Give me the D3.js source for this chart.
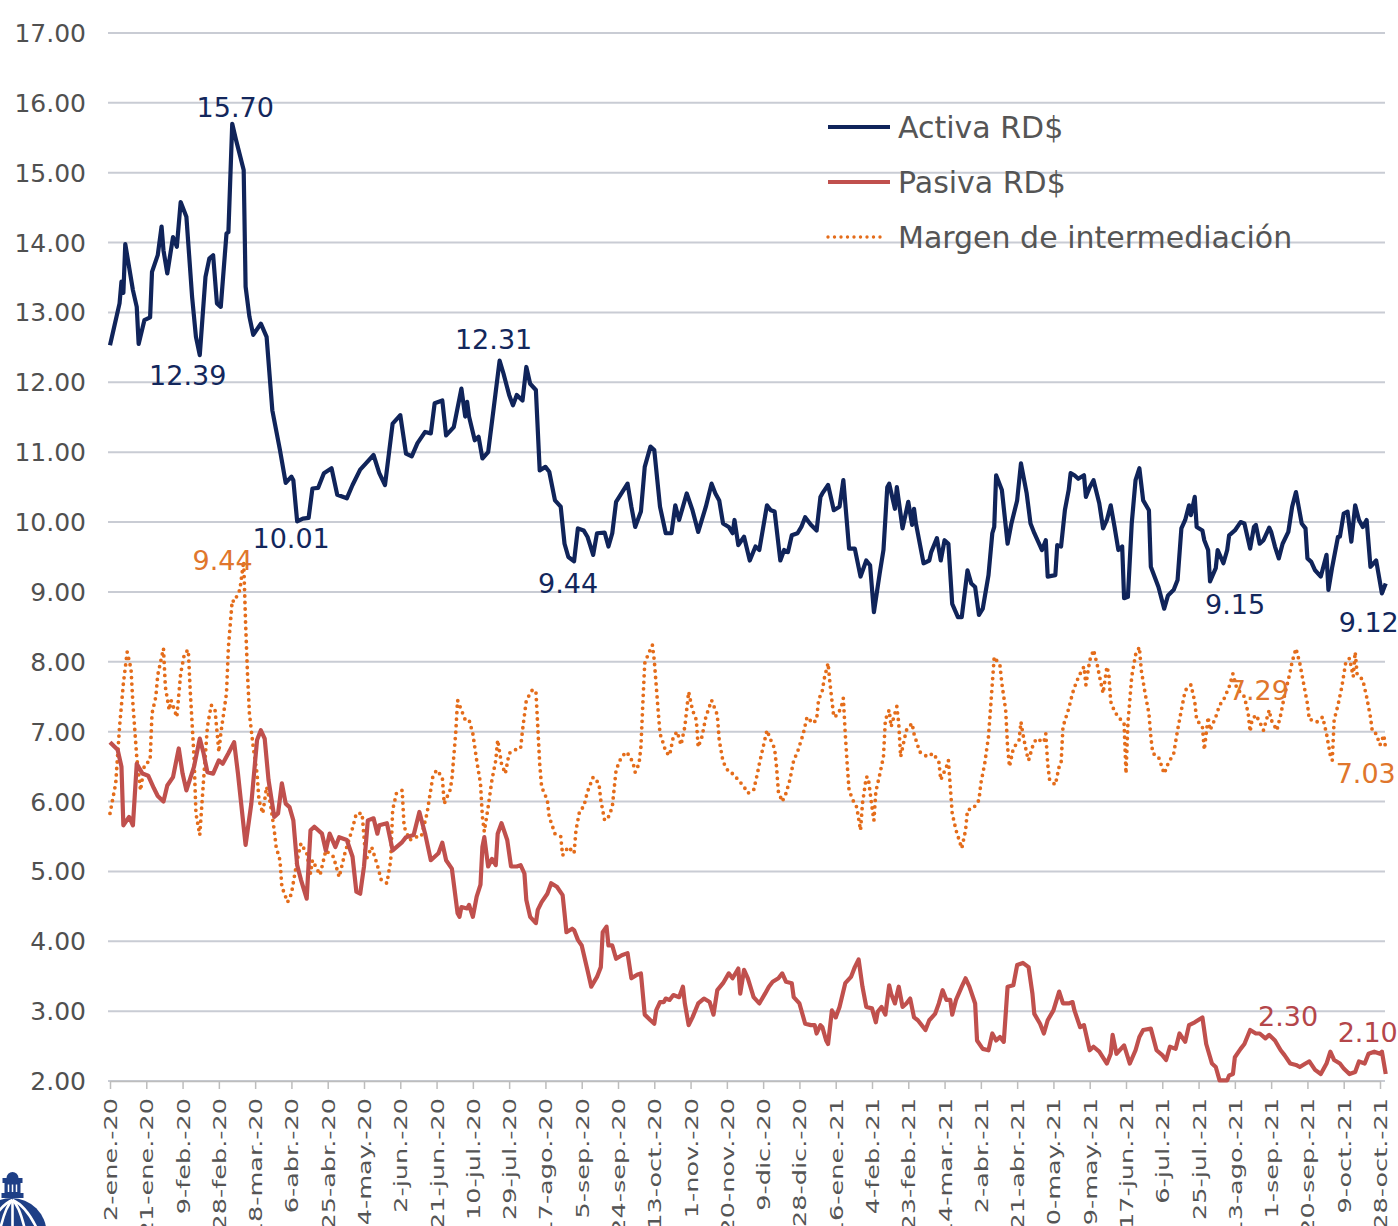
<!DOCTYPE html>
<meta charset="utf-8">
<style>
  body { margin: 0; background: #fff; }
  svg { display: block; font-family: "DejaVu Sans", sans-serif; }
  .grid line { stroke: #c9ccd4; stroke-width: 2; }
  .ylab { fill: #505050; font-size: 25px; }
  .xaxis path, .xaxis line { stroke: #bdbdbd; stroke-width: 1.5; }
  .xaxis text { fill: #555; font-size: 18px; font-family: "DejaVu Sans", sans-serif; }
  .legend text { fill: #555; font-size: 30px; }
  .etiqueta { font-size: 27px; text-anchor: middle; }
</style>
<body>
<script src="https://d3js.org/d3.v7.min.js"></script>
<script>
// dias contados desde el 2-ene-20
var activaDia = [0,2,5,6,7,8,12,14,15,18,21,22,25,27,28,30,33,35,37,40,43,45,47,50,52,54,56,58,61,62,
  64,66,70,71,73,75,79,82,85,89,92,95,96,98,101,104,106,109,112,116,119,124,127,131,134,138,141,144,148,152,
  155,158,161,165,168,170,174,176,180,184,186,187,188,191,193,195,198,201,204,206,209,211,213,216,218,220,223,225,228,230,
  233,236,238,240,243,245,248,250,253,255,259,261,263,265,271,273,275,278,280,283,285,288,291,294,296,298,302,305,308,312,
  315,317,319,321,324,326,327,329,332,335,338,340,344,346,348,351,353,355,357,360,362,364,367,370,372,373,376,379,382,384,
  387,390,393,396,398,400,403,405,407,408,411,412,415,418,420,421,422,426,429,430,433,435,437,439,441,444,446,449,451,453,
  455,457,460,462,463,464,467,470,472,475,477,480,482,484,488,490,491,495,496,498,500,502,503,505,507,510,511,513,515,518,
  520,522,524,526,528,530,531,533,535,537,539,541,544,545,549,552,554,557,559,561,563,565,566,568,569,572,573,575,576,579,
  580,583,585,586,589,592,594,597,599,600,602,604,607,608,610,612,614,617,619,621,624,626,627,629,631,634,637,638,640,643,
  644,646,648,650,652,654,656,658,660,663,666,668];
var activa = [12.53,12.77,13.13,13.44,13.28,13.98,13.32,13.08,12.55,12.89,12.93,13.58,13.82,14.23,13.89,13.56,14.08,13.94,14.58,14.37,
  13.22,12.65,12.39,13.51,13.77,13.82,13.13,13.08,14.13,14.15,15.70,15.47,15.04,13.37,12.94,12.68,12.84,12.65,11.60,11.03,
  10.56,10.65,10.60,10.01,10.05,10.06,10.48,10.49,10.70,10.77,10.39,10.34,10.53,10.75,10.84,10.96,10.70,10.53,11.41,11.53,
  10.98,10.94,11.13,11.29,11.27,11.70,11.74,11.24,11.36,11.91,11.51,11.72,11.51,11.17,11.22,10.91,11.00,11.65,12.31,12.13,
  11.82,11.67,11.82,11.74,12.22,11.98,11.89,10.74,10.79,10.72,10.31,10.22,9.69,9.50,9.44,9.91,9.88,9.79,9.53,9.84,
  9.85,9.65,9.84,10.29,10.55,10.22,9.93,10.15,10.79,11.08,11.03,10.22,9.84,9.84,10.24,10.03,10.41,10.17,9.86,10.22,
  10.55,10.41,10.31,9.98,9.93,9.84,10.03,9.67,9.79,9.45,9.65,9.60,10.24,10.17,10.15,9.45,9.60,9.57,9.81,9.84,
  9.93,10.07,9.96,9.88,10.36,10.41,10.53,10.17,10.22,10.60,9.62,9.62,9.22,9.45,9.38,8.71,9.26,9.60,10.50,10.55,
  10.19,10.50,9.91,10.29,9.96,10.19,9.98,9.41,9.45,9.57,9.77,9.45,9.74,9.69,8.83,8.64,8.64,9.31,9.12,9.07,
  8.67,8.76,9.24,9.84,9.93,10.67,10.46,9.69,9.98,10.31,10.84,10.41,9.98,9.84,9.60,9.74,9.22,9.24,9.67,9.65,
  10.17,10.46,10.70,10.67,10.62,10.67,10.36,10.50,10.60,10.27,9.91,10.03,10.24,9.93,9.60,9.65,8.91,8.93,9.98,10.60,
  10.77,10.31,10.17,9.36,9.07,8.76,8.95,9.03,9.17,9.91,10.03,10.24,10.10,10.36,9.93,9.88,9.74,9.60,9.15,9.34,
  9.60,9.41,9.60,9.81,9.88,10.00,9.98,9.62,9.93,9.96,9.69,9.74,9.92,9.86,9.65,9.48,9.69,9.86,10.22,10.43,
  9.98,9.91,9.48,9.43,9.31,9.22,9.53,9.03,9.36,9.79,9.79,10.12,10.15,9.72,10.24,10.03,9.93,10.03,9.36,9.45,
  8.98,9.12];

var pasivaDia = [0,4,6,7,10,12,14,17,20,23,25,28,30,33,36,38,40,44,47,49,51,54,57,59,62,65,67,71,74,77,
  79,81,83,86,88,90,92,94,96,98,100,103,105,107,111,113,115,118,120,124,127,129,131,133,135,138,140,141,145,148,
  153,155,159,162,165,168,172,174,176,179,182,183,184,187,188,190,192,194,195,196,198,200,202,203,205,208,210,213,215,217,
  218,220,223,224,226,229,231,234,237,238,239,242,243,245,247,250,252,255,257,258,260,261,263,265,268,271,273,276,278,280,
  283,285,286,288,290,291,293,295,298,300,301,303,305,308,311,314,316,318,321,324,326,329,330,332,334,337,340,343,345,347,
  350,352,354,357,358,361,364,367,369,370,372,373,375,376,378,380,382,385,388,390,392,394,396,399,401,402,404,406,408,409,
  411,413,415,417,419,421,423,427,429,432,434,436,438,440,441,443,446,448,450,453,454,457,460,462,464,466,468,470,473,475,
  478,481,483,484,487,489,491,494,497,499,502,504,505,508,510,513,515,518,522,524,525,527,531,534,537,539,541,545,548,551,
  553,555,558,560,563,565,568,572,574,577,579,581,585,586,588,589,592,594,597,600,602,605,607,610,613,615,618,621,623,626,
  628,631,634,637,639,641,644,646,649,652,654,657,659,662,665,666,668];
var pasiva = [6.85,6.74,6.50,5.66,5.78,5.66,6.54,6.40,6.37,6.19,6.08,6.00,6.23,6.35,6.76,6.40,6.16,6.50,6.90,6.69,
  6.42,6.40,6.59,6.54,6.69,6.85,6.40,5.38,5.97,6.88,7.02,6.90,6.31,5.78,5.83,6.26,5.97,5.92,5.73,5.09,
  4.88,4.61,5.59,5.64,5.54,5.30,5.54,5.35,5.49,5.45,5.21,4.71,4.68,5.07,5.73,5.76,5.54,5.66,5.69,5.30,
  5.42,5.49,5.52,5.85,5.54,5.16,5.26,5.41,5.16,5.04,4.40,4.35,4.49,4.47,4.52,4.35,4.64,4.81,5.35,5.49,
  5.07,5.18,5.09,5.54,5.69,5.45,5.07,5.07,5.09,4.97,4.59,4.35,4.26,4.45,4.56,4.68,4.83,4.78,4.66,4.40,
  4.13,4.18,4.16,4.02,3.94,3.59,3.35,3.49,3.63,4.13,4.21,3.94,3.94,3.75,3.80,3.83,3.47,3.52,3.54,2.95,
  2.87,2.82,3.01,3.13,3.13,3.18,3.16,3.23,3.20,3.35,3.11,2.80,2.91,3.11,3.18,3.13,2.95,3.30,3.40,3.54,
  3.47,3.61,3.25,3.59,3.47,3.20,3.11,3.25,3.35,3.42,3.47,3.54,3.42,3.40,3.20,3.11,2.82,2.80,2.80,2.68,
  2.80,2.77,2.58,2.53,3.01,2.91,3.06,3.40,3.49,3.63,3.74,3.35,3.06,3.04,2.84,2.99,3.06,2.95,3.37,3.25,
  3.11,3.35,3.06,3.11,3.18,2.91,2.87,2.73,2.87,2.96,3.11,3.30,3.16,3.16,2.95,3.16,3.35,3.47,3.35,3.11,
  2.58,2.46,2.44,2.68,2.58,2.63,2.56,3.35,3.37,3.66,3.69,3.63,3.25,2.96,2.82,2.68,2.87,3.01,3.28,3.11,
  3.11,3.13,3.01,2.77,2.80,2.44,2.49,2.42,2.25,2.39,2.66,2.39,2.51,2.25,2.44,2.63,2.73,2.75,2.44,2.37,
  2.30,2.49,2.46,2.68,2.56,2.80,2.84,2.91,2.53,2.25,2.20,2.01,2.01,2.08,2.10,2.34,2.46,2.53,2.73,2.68,
  2.68,2.61,2.66,2.58,2.44,2.37,2.25,2.23,2.20,2.25,2.28,2.16,2.10,2.25,2.42,2.30,2.25,2.18,2.10,2.13,
  2.28,2.25,2.39,2.42,2.39,2.42,2.10];

var margenDia = [0,3,5,7,9,11,12,14,16,18,21,22,24,25,28,29,31,32,35,37,39,41,42,44,45,47,49,51,53,55,
  57,58,61,62,64,65,68,70,71,72,73,75,77,78,80,82,84,86,87,89,90,93,95,98,100,103,105,106,110,113,
  117,120,123,127,129,132,134,137,140,142,145,147,148,150,153,154,157,161,163,166,169,171,174,175,178,179,181,182,184,186,
  188,190,192,194,195,196,198,200,202,203,205,207,209,212,215,216,218,221,223,224,225,226,229,230,233,236,237,240,243,244,
  246,248,250,253,256,257,259,261,263,265,267,270,272,274,275,277,278,279,280,282,284,285,287,288,290,291,293,295,297,299,
  301,303,305,307,308,310,312,315,318,319,321,324,326,329,332,334,337,339,340,342,344,346,348,349,350,352,354,356,358,360,
  363,365,368,370,371,373,374,376,377,379,381,383,384,385,386,387,389,391,393,394,396,397,399,400,401,403,405,406,408,409,
  412,413,414,416,417,420,421,424,428,431,434,435,438,439,440,441,443,446,448,449,452,455,456,458,460,461,462,463,466,467,
  469,470,471,473,476,477,478,480,481,483,485,489,490,491,492,495,497,498,499,502,504,506,508,510,511,513,515,517,518,520,
  522,523,524,526,528,531,532,533,534,535,537,539,540,542,544,545,546,549,552,554,557,559,561,563,566,568,569,572,573,575,
  576,579,581,583,586,588,590,594,596,597,598,600,602,604,607,608,611,613,615,617,619,621,623,625,627,628,630,632,635,637,
  639,640,641,643,645,647,649,651,652,653,656,658,660,661,663,665,667,668];
var margen = [5.83,6.26,7.07,7.69,8.14,7.90,7.40,6.64,6.16,6.52,6.59,7.26,7.50,7.81,8.19,7.64,7.31,7.45,7.21,7.83,
  8.12,8.17,7.59,6.64,5.83,5.52,6.31,7.07,7.38,7.31,6.71,6.97,7.55,8.21,8.88,8.86,9.03,9.44,8.55,7.83,
  7.26,6.78,6.40,6.02,5.83,6.21,5.97,5.59,5.35,5.16,4.78,4.56,4.68,5.16,5.40,5.26,4.97,5.16,4.95,5.30,
  5.21,4.92,5.26,5.62,5.83,5.83,5.16,5.35,5.09,4.88,4.83,5.16,5.88,6.12,6.16,5.64,5.45,5.50,5.50,5.83,
  6.35,6.45,6.35,5.97,6.16,6.31,6.97,7.45,7.31,7.17,7.17,6.97,6.59,6.26,5.78,5.57,5.92,6.31,6.59,6.88,
  6.54,6.40,6.69,6.74,6.76,7.02,7.45,7.59,7.59,7.07,6.54,6.21,6.02,5.78,5.54,5.50,5.23,5.35,5.26,5.59,
  5.88,5.92,6.14,6.35,6.26,6.02,5.73,5.78,5.92,6.45,6.59,6.71,6.66,6.54,6.42,6.54,6.78,7.40,7.98,8.12,
  8.24,8.02,7.31,6.97,6.81,6.71,6.66,6.93,7.00,6.81,7.07,7.57,7.31,7.17,6.78,6.93,7.21,7.45,7.24,6.88,
  6.57,6.42,6.40,6.31,6.21,6.12,6.16,6.40,6.54,6.78,7.02,6.88,6.76,6.50,6.14,6.00,6.12,6.31,6.59,6.71,
  6.97,7.21,7.12,7.17,7.45,7.59,7.76,7.98,7.69,7.21,7.24,7.36,7.48,6.97,6.54,6.16,6.02,5.92,5.59,5.97,
  6.35,6.35,5.92,5.73,6.14,6.38,6.64,7.17,7.31,7.07,7.36,7.12,6.64,6.90,7.02,7.12,6.97,6.71,6.64,6.69,
  6.57,6.31,6.50,6.59,6.21,5.83,5.59,5.33,5.59,5.88,5.90,6.02,6.26,6.54,6.93,7.31,7.69,8.07,7.95,7.69,
  7.31,6.78,6.50,6.76,6.88,7.14,6.97,6.69,6.59,6.78,6.90,6.85,6.97,6.54,6.31,6.24,6.50,6.54,7.07,7.33,
  7.55,7.71,7.83,7.93,7.67,8.02,8.17,7.95,7.81,7.55,7.93,7.83,7.43,7.29,7.21,7.12,6.40,7.12,7.45,7.79,
  8.10,8.21,7.88,7.55,7.26,6.93,6.69,6.64,6.40,6.54,6.69,7.02,7.31,7.59,7.67,7.43,7.17,7.07,6.74,7.21,
  7.02,7.21,7.38,7.45,7.64,7.83,7.62,7.50,7.26,7.00,7.17,7.24,7.14,7.02,7.31,7.17,7.02,7.24,7.52,7.74,
  8.00,8.19,7.98,7.69,7.40,7.17,7.17,7.14,7.21,6.97,6.66,6.59,7.17,7.38,7.64,7.98,8.05,7.79,8.14,7.83,
  7.74,7.50,7.21,7.00,6.97,6.81,6.95,6.75];

var ejeX = ["2-ene.-20","21-ene.-20","9-feb.-20","28-feb.-20","18-mar.-20","6-abr.-20","25-abr.-20","14-may.-20",
  "2-jun.-20","21-jun.-20","10-jul.-20","29-jul.-20","17-ago.-20","5-sep.-20","24-sep.-20","13-oct.-20","1-nov.-20",
  "20-nov.-20","9-dic.-20","28-dic.-20","16-ene.-21","4-feb.-21","23-feb.-21","14-mar.-21","2-abr.-21","21-abr.-21",
  "10-may.-21","29-may.-21","17-jun.-21","6-jul.-21","25-jul.-21","13-ago.-21","1-sep.-21","20-sep.-21","9-oct.-21","28-oct.-21"];
var ejeY = [2,3,4,5,6,7,8,9,10,11,12,13,14,15,16,17];

var series = ["Activa RD$", "Pasiva RD$", "Margen de intermediación"];

var etiquetaTexto = ["15.70","12.39","10.01","12.31","9.44","9.15","9.12","9.44","7.29","7.03","2.30","2.10"];
var etiquetaSerie = [0,0,0,0,0,0,0,2,2,2,1,1];
var etiquetaDia   = [64,47,98,204,243,576,668,70,600,668,597,668];
var etiquetaValor = [15.70,12.39,10.01,12.31,9.44,9.15,9.12,9.44,7.29,7.03,2.30,2.10];

// ---------------------------------------------------------------------------

var meses = {ene:0, feb:1, mar:2, abr:3, may:4, jun:5, jul:6, ago:7, sep:8, oct:9, nov:10, dic:11};
function leerFecha(s) {
  var p = s.split("-");
  return new Date(2000 + (+p[2]), meses[p[1].replace(".", "")], +p[0]);
}
var inicio = leerFecha(ejeX[0]);
function fecha(d) { return d3.timeDay.offset(inicio, d); }

var colores = ["#10245a", "#c0504d", "#e46c1a"];
var colorEtiqueta = ["#13275c", "#b4464a", "#e0762c"];

var width = 1398, height = 1226;

var x = d3.scaleTime()
    .domain([inicio, leerFecha(ejeX[ejeX.length - 1])])
    .range([110, 1380]);

var y = d3.scaleLinear()
    .domain([2, 17])
    .range([1081, 33]);

var svg = d3.select("body").append("svg")
    .attr("width", width)
    .attr("height", height);

// grid
svg.append("g").attr("class", "grid")
  .selectAll("line")
    .data(ejeY)
  .enter().append("line")
    .attr("x1", 108)
    .attr("x2", 1385)
    .attr("y1", function(d) { return y(d); })
    .attr("y2", function(d) { return y(d); });

svg.append("g")
  .selectAll("text")
    .data(ejeY)
  .enter().append("text")
    .attr("class", "ylab")
    .attr("x", 86)
    .attr("y", function(d) { return y(d); })
    .attr("dy", "0.36em")
    .attr("text-anchor", "end")
    .text(function(d) { return d.toFixed(2); });

// eje x
var xAxis = d3.axisBottom(x)
    .tickValues(ejeX.map(leerFecha))
    .tickFormat(function(d, i) { return ejeX[i]; })
    .tickSize(8)
    .tickSizeOuter(0);

var gx = svg.append("g")
    .attr("class", "xaxis")
    .attr("transform", "translate(0," + y(2) + ")")
    .call(xAxis);

var estirar = 1.42;
gx.selectAll("text")
    .attr("y", 0)
    .attr("x", -17 / estirar)
    .attr("dy", "0.36em")
    .attr("text-anchor", "end")
    .attr("transform", "rotate(-90) scale(" + estirar + ",1)");

// lineas
function linea(dias, valores) {
  return d3.line()
      .x(function(d, i) { return x(fecha(dias[i])); })
      .y(function(d) { return y(d); })(valores);
}

svg.append("path")
    .attr("d", linea(margenDia, margen))
    .attr("fill", "none")
    .attr("stroke", colores[2])
    .attr("stroke-width", 3.8)
    .attr("stroke-linecap", "round")
    .attr("stroke-dasharray", "0 6.5");

svg.append("path")
    .attr("d", linea(pasivaDia, pasiva))
    .attr("fill", "none")
    .attr("stroke", colores[1])
    .attr("stroke-width", 4.2)
    .attr("stroke-linejoin", "round");

svg.append("path")
    .attr("d", linea(activaDia, activa))
    .attr("fill", "none")
    .attr("stroke", colores[0])
    .attr("stroke-width", 4.2)
    .attr("stroke-linejoin", "round");

// etiquetas de datos
var desplaza = [[3,-7],[-12,30],[-6,27],[-6,-12],[-6,32],[25,33],[-17,48],[-21,9],[3,-11],[-20,53],[38,-34],[-18,-32]];

svg.append("g")
  .selectAll("text")
    .data(etiquetaTexto)
  .enter().append("text")
    .attr("class", "etiqueta")
    .attr("x", function(d, i) { return x(fecha(etiquetaDia[i])) + desplaza[i][0]; })
    .attr("y", function(d, i) { return y(etiquetaValor[i]) + desplaza[i][1]; })
    .style("fill", function(d, i) { return colorEtiqueta[etiquetaSerie[i]]; })
    .text(function(d) { return d; });

// leyenda
var legend = svg.append("g")
    .attr("class", "legend")
    .attr("transform", "translate(828,127)");

var items = legend.selectAll("g")
    .data(series)
  .enter().append("g")
    .attr("transform", function(d, i) { return "translate(0," + (i * 55) + ")"; });

items.append("line")
    .attr("x1", 0)
    .attr("x2", function(d, i) { return i == 2 ? 58 : 62; })
    .attr("stroke", function(d, i) { return colores[i]; })
    .attr("stroke-width", function(d, i) { return i == 2 ? 3.4 : 4; })
    .attr("stroke-linecap", function(d, i) { return i == 2 ? "round" : "butt"; })
    .attr("stroke-dasharray", function(d, i) { return i == 2 ? "0 6.5" : null; });

items.append("text")
    .attr("x", 70)
    .attr("dy", "0.36em")
    .text(function(d) { return d; });

// logo
var logo = svg.append("g").attr("transform", "translate(12.5,0)");
logo.append("path")
    .attr("d", "M-36,1233 A35,35 0 0 1 34,1233 Z")
    .attr("fill", "#1e3f86");
[-26, -13, 0, 13, 26].forEach(function(k) {
  logo.append("path")
      .attr("d", "M0,1200 Q" + (k * 0.55) + ",1206 " + k + ",1232")
      .attr("fill", "none")
      .attr("stroke", "#fff")
      .attr("stroke-width", 2.6);
});
logo.append("path")
    .attr("d", "M-6,1178 A6,6 0 0 1 6,1178 Z")
    .attr("fill", "#1e3f86");
logo.append("rect").attr("x", -10).attr("y", 1178).attr("width", 20).attr("height", 5).attr("fill", "#1e3f86");
logo.append("rect").attr("x", -8).attr("y", 1183).attr("width", 16).attr("height", 10).attr("fill", "#1e3f86");
[-4, 0, 4].forEach(function(k) {
  logo.append("line")
      .attr("x1", k).attr("x2", k).attr("y1", 1184.5).attr("y2", 1192)
      .attr("stroke", "#fff").attr("stroke-width", 1.5);
});
logo.append("rect").attr("x", -11).attr("y", 1193).attr("width", 22).attr("height", 5).attr("fill", "#1e3f86");

</script>
</body>
</html>
